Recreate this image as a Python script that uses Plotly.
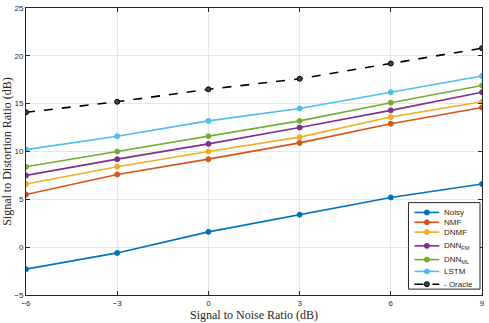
import plotly.graph_objects as go

snr = [-6, -3, 0, 3, 6, 9]
names = ["Noisy", "NMF", "DNMF", "DNN<sub>FM</sub>", "DNN<sub>ML</sub>", "LSTM", "Oracle"]
noisy = [-2.3, -0.6, 1.6, 3.4, 5.2, 6.6]
nmf = [5.5, 7.6, 9.2, 10.9, 12.9, 14.6]
dnmf = [6.6, 8.4, 10.0, 11.5, 13.6, 15.2]
dnn_fm = [7.5, 9.2, 10.8, 12.5, 14.3, 16.2]
dnn_ml = [8.4, 10.0, 11.6, 13.2, 15.1, 16.9]
lstm = [10.2, 11.6, 13.2, 14.5, 16.2, 17.9]
oracle = [14.1, 15.2, 16.5, 17.6, 19.2, 20.8]
series = [noisy, nmf, dnmf, dnn_fm, dnn_ml, lstm, oracle]
colors = ["#0072BD", "#D95319", "#EDB120", "#7E2F8E", "#77AC30", "#4DBEEE", "#000000"]

W, H = 489, 323
ML, MR, MT, MB = 26, 4, 5, 26
PW, PH = W - ML - MR, H - MT - MB

def px2paper(xp, yp):
    return (xp - ML) / PW, (H - MB - yp) / PH

fig = go.Figure()
for name, vals, c in zip(names, series, colors):
    is_or = name == "Oracle"
    fig.add_trace(go.Scatter(
        x=snr, y=vals, name=name, mode="lines+markers", showlegend=False,
        line=dict(color=c, width=1.6, dash="dash" if is_or else "solid"),
        marker=dict(symbol="circle", size=5, color="#444444" if is_or else c,
                    line=dict(color=c, width=1)),
    ))

# MATLAB-style compact legend box
shapes = []
annotations = []
bx0, by0 = px2paper(411, 291)
bx1, by1 = px2paper(483, 203)
shapes.append(dict(type="rect", xref="paper", yref="paper", x0=bx0, y0=by0, x1=bx1, y1=by1,
                   line=dict(color="#262626", width=1), fillcolor="white", layer="above"))
item_py = [213, 223, 233, 247, 261, 273, 286]
for name, c, py in zip(names, colors, item_py):
    is_or = name == "Oracle"
    lx0, ly = px2paper(417, py)
    lx1, _ = px2paper(442, py)
    mx, _ = px2paper(429.5, py)
    tx, _ = px2paper(445, py)
    shapes.append(dict(type="line", xref="paper", yref="paper", x0=lx0, x1=lx1, y0=ly, y1=ly,
                       line=dict(color=c, width=1.6, dash="dash" if is_or else "solid"), layer="above"))
    shapes.append(dict(type="circle", xref="paper", yref="paper", xsizemode="pixel", ysizemode="pixel",
                       xanchor=mx, yanchor=ly, x0=-2.5, x1=2.5, y0=-2.5, y1=2.5,
                       fillcolor="#444444" if is_or else c, line=dict(color=c, width=1), layer="above"))
    annotations.append(dict(x=tx, y=ly, xref="paper", yref="paper", text=("- " + name) if is_or else name,
                            showarrow=False, xanchor="left", yanchor="middle",
                            font=dict(family="Liberation Sans, Arial", size=8, color="#262626")))

axis_common = dict(
    showline=True, linecolor="#262626", linewidth=1, mirror="ticks",
    ticks="inside", ticklen=4, tickcolor="#262626",
    showgrid=True, gridcolor="#E6E6E6", gridwidth=1, zeroline=False,
    tickfont=dict(family="Liberation Sans, Arial", size=8, color="#262626"),
)
fig.update_xaxes(range=[-6, 9], tickvals=snr,
                 title=dict(text="Signal to Noise Ratio (dB)", standoff=3,
                            font=dict(family="Liberation Serif, Times New Roman", size=12, color="#262626")),
                 **axis_common)
fig.update_yaxes(range=[-5, 25], tickvals=[-5, 0, 5, 10, 15, 20, 25],
                 title=dict(text="Signal to Distortion Ratio (dB)", standoff=1,
                            font=dict(family="Liberation Serif, Times New Roman", size=12, color="#262626")),
                 **axis_common)
fig.update_layout(
    width=W, height=H, margin=dict(l=ML, r=MR, t=MT, b=MB),
    plot_bgcolor="white", paper_bgcolor="white",
    shapes=shapes, annotations=annotations, showlegend=False,
)
fig.write_html("out.html")
